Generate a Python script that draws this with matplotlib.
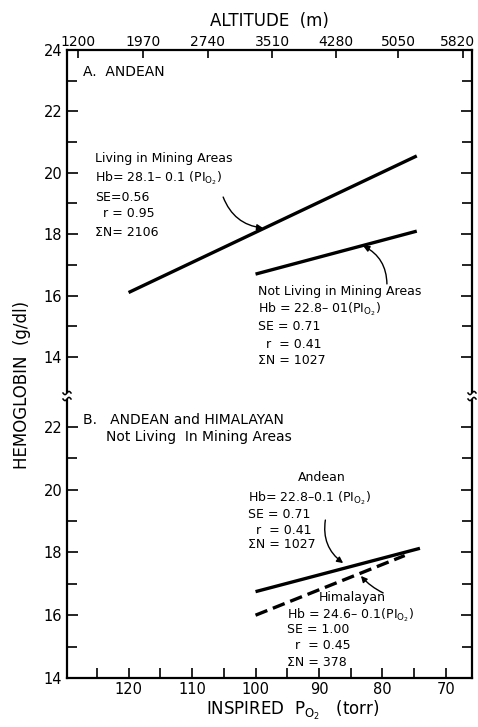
import matplotlib
matplotlib.use("Agg")
import matplotlib.pyplot as plt
import matplotlib.transforms as mtransforms
from matplotlib.lines import Line2D
import numpy as np

plt.rcParams['font.family'] = ['DejaVu Sans']
plt.rcParams['mathtext.fontset'] = 'dejavusans'

# ---------------- data ----------------
pio2_ticks = [125, 120, 115, 110, 105, 100, 95, 90, 85, 80, 75, 70]
pio2_labels = ["", "120", "", "110", "", "100", "", "90", "", "80", "", "70"]
alt_labels = ["1200", "1970", "2740", "3510", "4280", "5050", "5820"]
alt_pio2 = [127.9, 117.7, 107.5, 97.4, 87.4, 77.5, 67.3]
hb_ticks_top = [14, 16, 18, 20, 22, 24]
hb_ticks_bot = [14, 16, 18, 20, 22]

mining_x = [120.0, 74.6]
mining_y = [16.1, 20.55]
notmining_x = [100.0, 74.6]
notmining_y = [16.7, 18.1]
andean_x = [100.0, 74.1]
andean_y = [16.75, 18.13]
himalayan_x = [100.0, 76.5]
himalayan_y = [16.0, 17.9]

# ---------------- layout ----------------
W, H = 478, 727
fig = plt.figure(figsize=(W / 100, H / 100), dpi=100)

def fx(px):
    return px / W

def fy(py):
    return 1 - py / H

left, right = 67, 472
top_t, top_b = 50, 392
bot_t, bot_b = 400, 678

ax1 = fig.add_axes([fx(left), fy(top_b), fx(right - left), fy(top_t) - fy(top_b)])
ax2 = fig.add_axes([fx(left), fy(bot_b), fx(right - left), fy(bot_t) - fy(bot_b)])

xlim = (129.7, 65.9)
for ax in (ax1, ax2):
    ax.set_xlim(*xlim)
    for s in ax.spines.values():
        s.set_linewidth(1.6)
    ax.tick_params(which='both', direction='in', width=1.2,
                   left=True, right=True, labelsize=10.5)
    ax.tick_params(which='major', length=8)
    ax.tick_params(which='minor', length=7)

ax1.set_ylim(24 - (top_b - top_t) / 30.7, 24)
ax2.set_ylim(14, 14 + (bot_b - bot_t) / 31.4)
ax1.spines['bottom'].set_visible(False)
ax2.spines['top'].set_visible(False)

ax1.set_yticks(hb_ticks_top)
ax1.set_yticks([15, 17, 19, 21, 23], minor=True)
ax2.set_yticks(hb_ticks_bot)
ax2.set_yticks([15, 17, 19, 21], minor=True)
ax1.tick_params(axis='y', which='both', labelright=False)
ax2.tick_params(axis='y', which='both', labelright=False)

ax1.set_xticks([])
ax2.set_xticks(pio2_ticks)
ax2.set_xticklabels(pio2_labels)
ax2.tick_params(axis='x', bottom=True, top=False, length=7, pad=3)
fig.text(fx(293), fy(710), r'INSPIRED  P$_{\mathrm{O_2}}$   (torr)', fontsize=12,
         ha='center', va='center')

# top altitude axis
axt = ax1.twiny()
axt.set_xlim(*xlim)
axt.set_xticks(alt_pio2)
axt.set_xticklabels(alt_labels)
axt.tick_params(axis='x', direction='in', length=6, width=1.2, labelsize=10, pad=1)
axt.set_xlabel('ALTITUDE  (m)', fontsize=12, labelpad=6)
for s in axt.spines.values():
    s.set_visible(False)
last = axt.get_xticklabels()[-1]
last.set_transform(last.get_transform() +
                   mtransforms.ScaledTranslation(-6 / 100, 0, fig.dpi_scale_trans))

fig.text(fx(22), fy(385), 'HEMOGLOBIN  (g/dl)', rotation=90, ha='center',
         va='center', fontsize=12)

# ---------------- lines ----------------
lw = 2.4
ax1.plot(mining_x, mining_y, color='black', lw=lw, solid_capstyle='butt')
ax1.plot(notmining_x, notmining_y, color='black', lw=lw, solid_capstyle='butt')
ax2.plot(andean_x, andean_y, color='black', lw=lw, solid_capstyle='butt')
ax2.plot(himalayan_x, himalayan_y, color='black', lw=lw, linestyle=(0, (3.8, 1.8)),
         dash_capstyle='butt')

# ---------------- annotations ----------------
fs = 9
sub = r'$_{\mathrm{O_2}}$'
ax1.text(127.2, 23.28, 'A.  ANDEAN', fontsize=10, va='center')
for y, s in zip([20.48, 19.83, 19.18, 18.66, 18.07],
                ['Living in Mining Areas', 'Hb= 28.1\u2013 0.1 (PI' + sub + ')',
                 'SE=0.56', '  r = 0.95', '\u03a3N= 2106']):
    ax1.text(125.3, y, s, fontsize=fs, va='center')
for y, s in zip([16.12, 15.56, 15.0, 14.42, 13.9],
                ['Not Living in Mining Areas', 'Hb = 22.8\u2013 01(PI' + sub + ')',
                 'SE = 0.71', '  r  = 0.41', '\u03a3N = 1027']):
    ax1.text(99.6, y, s, fontsize=fs, va='center')

ax2.text(127.2, 22.22, 'B.   ANDEAN and HIMALAYAN', fontsize=10, va='center')
ax2.text(123.6, 21.68, 'Not Living  In Mining Areas', fontsize=10, va='center')
ax2.text(89.5, 20.37, 'Andean', fontsize=fs, va='center', ha='center')
for y, s in zip([19.73, 19.22, 18.71, 18.24],
                ['Hb= 22.8\u20130.1 (PI' + sub + ')', 'SE = 0.71',
                 '  r  = 0.41', '\u03a3N = 1027']):
    ax2.text(101.2, y, s, fontsize=fs, va='center')
ax2.text(84.8, 16.55, 'Himalayan', fontsize=fs, va='center', ha='center')
for y, s in zip([16.0, 15.53, 15.02, 14.48],
                ['Hb = 24.6\u2013 0.1(PI' + sub + ')', 'SE = 1.00',
                 '  r  = 0.45', '\u03a3N = 378']):
    ax2.text(95.0, y, s, fontsize=fs, va='center')

aprops = dict(arrowstyle='-|>', color='black', lw=1.0, mutation_scale=9,
              shrinkA=0, shrinkB=0)
ax1.annotate('', xy=(98.8, 18.2), xytext=(105.1, 19.21),
             arrowprops=dict(connectionstyle='arc3,rad=0.3', **aprops))
ax1.annotate('', xy=(83.05, 17.62), xytext=(79.3, 16.38),
             arrowprops=dict(connectionstyle='arc3,rad=0.3', **aprops))
ax2.annotate('', xy=(86.2, 17.66), xytext=(89.0, 19.03),
             arrowprops=dict(connectionstyle='arc3,rad=0.3', **aprops))
ax2.annotate('', xy=(83.4, 17.25), xytext=(79.9, 16.71),
             arrowprops=dict(connectionstyle='arc3,rad=-0.1', **aprops))

# ---------------- axis break marks ----------------
t = np.linspace(0, 1, 30)
for xc in (left, right):
    for yc in (top_b + 1, bot_t - 1):
        xs = xc - 4 + 8 * t
        ys = yc + 1.6 * np.sin(2 * np.pi * t)
        fig.add_artist(Line2D(fx(xs), fy(ys), color='black', lw=1.1))

fig.savefig('out.png', dpi=100)
